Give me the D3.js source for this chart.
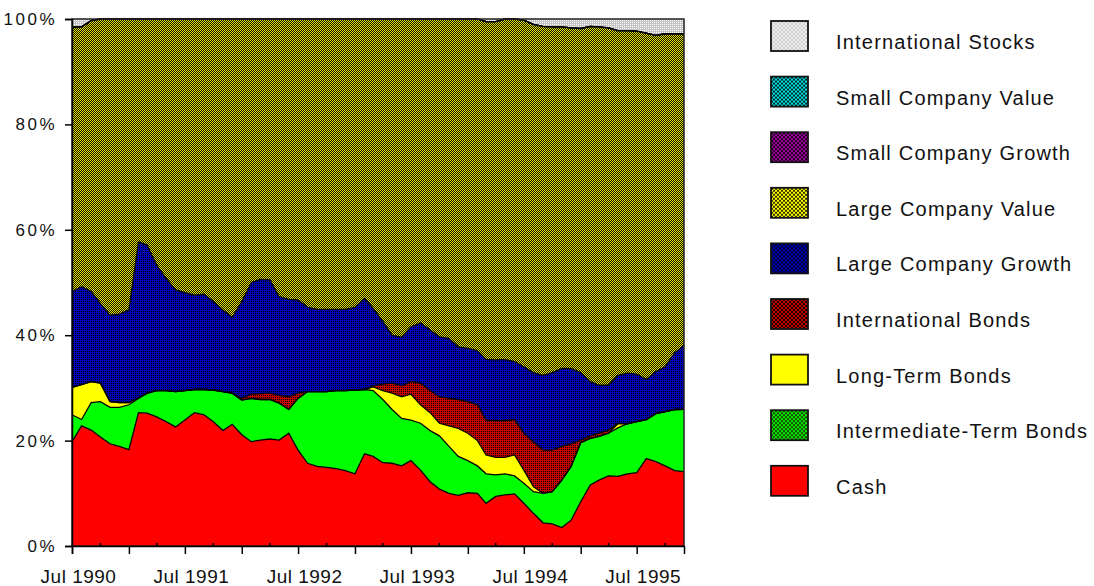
<!DOCTYPE html>
<html>
<head>
<meta charset="utf-8">
<script src="https://cdn.jsdelivr.net/npm/d3@7"></script>
<style>
  body { margin: 0; background: #fff; }
  svg text { font-family: Arial, "Liberation Sans", sans-serif; fill: #111; }
</style>
</head>
<body>
<svg id="chart" width="1094" height="586"></svg>
<script>
// meses: de Jul 1990 a Dic 1995 (66 puntos mensuales)
let startMonth = new Date(1990, 6, 1);
let endMonth = new Date(1996, 0, 1);
let months = d3.timeMonth.range(startMonth, endMonth);

// series (porcentaje del portafolio, de abajo hacia arriba)
let cash = [19.8,22.8,22.0,20.7,19.4,18.9,18.3,25.3,25.2,24.5,
  23.6,22.6,23.9,25.3,24.9,23.6,21.9,23.1,21.1,19.8,
  20.1,20.3,20.1,21.4,18.2,15.7,15.1,14.9,14.7,14.3,
  13.7,17.5,17.0,15.8,15.7,15.2,16.2,14.4,12.2,10.8,
  10.0,9.6,10.1,10.0,8.1,9.4,9.7,9.9,8.1,6.2,
  4.4,4.2,3.5,4.9,8.4,11.6,12.5,13.3,13.2,13.7,
  13.9,16.6,16.0,15.2,14.3,14.1];
let intermediateBonds = [5.1,1.2,5.2,6.7,6.9,7.4,8.5,2.7,3.8,5.0,
  5.9,6.7,5.6,4.4,4.8,6.0,7.4,5.9,6.6,8.2,
  7.7,7.5,7.0,4.5,9.8,13.6,14.2,14.4,14.8,15.2,
  15.9,12.2,12.5,12.0,10.2,9.0,7.7,8.9,9.7,10.1,
  8.9,7.4,6.1,5.2,5.6,4.1,4.0,3.4,3.8,4.1,
  5.6,6.1,9.0,10.2,11.2,8.8,8.3,8.1,9.2,9.5,
  9.7,7.4,9.1,10.3,11.6,11.8];
let longBonds = [5.2,6.6,4.0,3.5,1.1,0.9,0.4,0.1,0,0,
  0,0,0,0,0,0,0,0,0,0,
  0,0,0,0,0,0,0,0,0,0,
  0,0,0.7,1.7,3.1,4.1,4.9,3.5,3.4,2.4,
  3.9,5.3,5.2,4.8,3.6,3.3,3.1,4.0,2.5,1.0,
  0,0,0,0,0,0,0,0,0.8,0,
  0,0,0,0,0,0];
let intlBonds = [0,0,0,0,0,0,0,0,0,0,
  0,0,0,0,0,0,0,0,0.3,0.8,
  1.1,1.2,1.5,2.4,1.0,0,0,0,0,0,
  0,0,0.2,1.2,1.9,2.1,2.4,4.1,4.2,5.0,
  5.2,5.5,6.0,6.8,6.6,7.0,7.0,6.7,7.0,8.5,
  8.2,7.9,6.4,4.3,0.5,0.5,0.6,0.6,0.1,0,
  0,0,0,0,0,0];
let largeGrowth = [18.2,18.6,17.1,15.1,16.4,16.8,17.6,29.6,28.1,23.8,
  21.3,19.3,18.6,17.9,18.1,16.8,15.5,14.4,18.4,21.2,
  21.7,21.5,18.7,18.5,17.7,16.0,15.6,15.6,15.4,15.4,
  15.7,17.3,14.7,11.9,9.1,9.2,10.4,11.4,11.5,11.4,
  11.4,10.0,10.1,10.3,11.5,11.5,11.6,11.0,12.6,13.1,
  14.2,14.7,14.8,14.3,12.8,10.3,9.1,8.5,9.1,9.6,
  9.0,7.6,8.0,8.5,10.8,12.1];
let largeValue = [50.2,49.3,51.4,54.0,56.2,56.0,55.2,42.3,42.9,46.7,
  49.2,51.4,51.9,52.4,52.2,53.6,55.2,56.6,53.6,50.0,
  49.4,49.5,52.7,53.2,53.3,54.7,55.1,55.1,55.1,55.1,
  54.7,53.0,54.9,57.4,60.0,60.4,58.4,57.7,59.0,60.3,
  60.6,62.2,62.5,62.9,64.1,64.2,64.6,65.0,65.8,66.1,
  66.2,65.6,64.8,64.6,65.3,67.4,68.0,67.8,65.4,65.0,
  65.1,65.7,63.8,63.2,60.5,59.1];
let smallGrowth = [0,0,0,0,0,0,0,0,0,0,
  0,0,0,0,0,0,0,0,0,0,
  0,0,0,0,0,0,0,0,0,0,
  0,0,0,0,0,0,0,0,0,0,
  0,0,0,0,0,0,0,0,0,0,
  0,0,0,0,0,0,0,0,0,0,
  0,0,0,0,0,0];
let smallValue = [0,0,0,0,0,0,0,0,0,0,
  0,0,0,0,0,0,0,0,0,0,
  0,0,0,0,0,0,0,0,0,0,
  0,0,0,0,0,0,0,0,0,0,
  0,0,0,0,0,0,0,0,0,0,
  0,0,0,0,0,0,0,0,0,0,
  0,0,0,0,0,0];
let intlStocks = [1.5,1.5,0.3,0,0,0,0,0,0,0,
  0,0,0,0,0,0,0,0,0,0,
  0,0,0,0,0,0,0,0,0,0,
  0,0,0,0,0,0,0,0,0,0,
  0,0,0,0,0.5,0.5,0,0,0.2,1.0,
  1.4,1.5,1.5,1.7,1.8,1.4,1.5,1.7,2.2,2.2,
  2.3,2.7,3.1,2.8,2.8,2.8];

// etiquetas del eje y
let yTicks = [0, 0.2, 0.4, 0.6, 0.8, 1];

// orden de apilado (abajo -> arriba)
let keys = ["cash", "intermediate", "long", "intlBonds", "largeGrowth",
  "largeValue", "smallGrowth", "smallValue", "intlStocks"];
let labels = {
  cash: "Cash",
  intermediate: "Intermediate-Term Bonds",
  long: "Long-Term Bonds",
  intlBonds: "International Bonds",
  largeGrowth: "Large Company Growth",
  largeValue: "Large Company Value",
  smallGrowth: "Small Company Growth",
  smallValue: "Small Company Value",
  intlStocks: "International Stocks"
};

let tabla = months.map((m, i) => ({
  date: m,
  cash: cash[i],
  intermediate: intermediateBonds[i],
  long: longBonds[i],
  intlBonds: intlBonds[i],
  largeGrowth: largeGrowth[i],
  largeValue: largeValue[i],
  smallGrowth: smallGrowth[i],
  smallValue: smallValue[i],
  intlStocks: intlStocks[i]
}));

let svg = d3.select("#chart");
let plotLeft = 72, plotRight = 684, plotTop = 19, plotBottom = 546;

/* ---------- patrones de relleno (tramas tipo dither) ---------- */
let defs = svg.append("defs");
function tramaPixel(id, fondo, puntos, color, size) {
  let p = defs.append("pattern").attr("id", id)
    .attr("patternUnits", "userSpaceOnUse")
    .attr("width", size).attr("height", size);
  p.append("rect").attr("width", size).attr("height", size).attr("fill", fondo);
  puntos.forEach(([px, py]) => {
    p.append("rect").attr("x", px).attr("y", py).attr("width", 1).attr("height", 1).attr("fill", color);
  });
}
function tramaRed(id, fondo, color) {
  let p = defs.append("pattern").attr("id", id)
    .attr("patternUnits", "userSpaceOnUse")
    .attr("width", 4).attr("height", 4);
  p.append("rect").attr("width", 4).attr("height", 4).attr("fill", fondo);
  p.append("path").attr("d", "M0,0L4,4M4,0L0,4")
    .attr("stroke", color).attr("stroke-width", 0.8);
}
// grafico
tramaPixel("pValue", "#000", [[0, 0], [1, 1]], "#f0f000", 2);
tramaPixel("pGrowth", "#0000b8", [[1, 1]], "#000", 2);
tramaPixel("pIntlBonds", "#c80000", [[1, 1]], "#000", 2);
tramaPixel("pIntlStocks", "#c4c4c4", [[0, 0]], "#ffffff", 2);
tramaPixel("pSmallGrowth", "#000", [[0, 0], [1, 1]], "#c000c0", 2);
tramaPixel("pSmallValue", "#000", [[0, 0], [1, 1]], "#00d0d0", 2);
// leyenda
tramaRed("lValue", "#ffff00", "#000");
tramaRed("lGrowth", "#0000c0", "#000");
tramaRed("lIntlBonds", "#c00000", "#000");
tramaRed("lSmallGrowth", "#a000a0", "#000");
tramaRed("lSmallValue", "#00e0e0", "#000");
tramaRed("lIntlStocks", "#d0d0d0", "#f4f4f4");
tramaRed("lIntermediate", "#00ee00", "#202000");

let relleno = {
  cash: "#ff0000",
  intermediate: "#00ff00",
  long: "#ffff00",
  intlBonds: "url(#pIntlBonds)",
  largeGrowth: "url(#pGrowth)",
  largeValue: "url(#pValue)",
  smallGrowth: "url(#pSmallGrowth)",
  smallValue: "url(#pSmallValue)",
  intlStocks: "url(#pIntlStocks)"
};
let rellenoLeyenda = {
  cash: "#ff0000",
  intermediate: "url(#lIntermediate)",
  long: "#ffff00",
  intlBonds: "url(#lIntlBonds)",
  largeGrowth: "url(#lGrowth)",
  largeValue: "url(#lValue)",
  smallGrowth: "url(#lSmallGrowth)",
  smallValue: "url(#lSmallValue)",
  intlStocks: "url(#lIntlStocks)"
};

/* ---------- escalas ---------- */
let xScale = d3.scaleTime()
  .domain([startMonth, months[months.length - 1]])
  .range([plotLeft, plotRight]);
let yScale = d3.scaleLinear().domain([0, 1]).range([plotBottom, plotTop]);

let series = d3.stack().keys(keys).offset(d3.stackOffsetExpand)(tabla);

let area = d3.area()
  .x(d => xScale(d.data.date))
  .y0(d => yScale(d[0]))
  .y1(d => yScale(d[1]));
let linea = d3.line()
  .x(d => xScale(d.data.date))
  .y(d => yScale(d[1]));

let body = svg.append("g");
body.selectAll(".capa")
  .data(series)
  .enter()
  .append("path")
  .attr("class", "capa")
  .attr("d", area)
  .attr("fill", d => relleno[d.key]);

// bordes negros entre capas
body.selectAll(".borde")
  .data(series.slice(0, series.length - 1))
  .enter()
  .append("path")
  .attr("class", "borde")
  .attr("d", linea)
  .attr("fill", "none")
  .attr("stroke", "#000")
  .attr("stroke-width", 1.3);

// marco del area
svg.append("rect")
  .attr("x", plotLeft).attr("y", plotTop)
  .attr("width", plotRight - plotLeft).attr("height", plotBottom - plotTop)
  .attr("fill", "none").attr("stroke", "#222").attr("stroke-width", 1.5);

/* ---------- ejes ---------- */
let axisY = d3.axisLeft(yScale)
  .tickValues(yTicks)
  .tickFormat(d3.format(".0%"))
  .tickSize(7)
  .tickPadding(8);
let gy = svg.append("g").attr("transform", `translate(${plotLeft},0)`).call(axisY);
gy.select(".domain").attr("stroke", "#000").attr("stroke-width", 1.5);
gy.selectAll("line").attr("stroke", "#000").attr("stroke-width", 1.5);
gy.selectAll("text").style("font-size", "17px").style("letter-spacing", "2.5px").style("fill", "#111");

let majorTicks = months.filter(m => m.getMonth() === 0 || m.getMonth() === 6);
let minorTicks = months.filter(m => m.getMonth() === 3 || m.getMonth() === 9);

let axisX = d3.axisBottom(xScale)
  .tickValues(majorTicks)
  .tickSize(8)
  .tickFormat(d => d.getMonth() === 6 ? "Jul " + d.getFullYear() : "");
let gx = svg.append("g").attr("transform", `translate(0,${plotBottom})`).call(axisX);
gx.select(".domain").attr("stroke", "#000").attr("stroke-width", 1.5);
gx.selectAll("line").attr("stroke", "#000").attr("stroke-width", 1.5);
gx.selectAll("text")
  .attr("y", 37).attr("dy", 0).attr("dx", 6)
  .style("font-size", "19px").style("letter-spacing", "0.5px").style("fill", "#111");

svg.append("g").selectAll("line")
  .data(minorTicks)
  .enter()
  .append("line")
  .attr("x1", d => xScale(d)).attr("x2", d => xScale(d))
  .attr("y1", plotBottom).attr("y2", plotBottom - 3)
  .attr("stroke", "#000").attr("stroke-width", 1.5);

/* ---------- leyenda ---------- */
let legendKeys = keys.slice().reverse();
let legend = svg.append("g")
  .selectAll("g")
  .data(legendKeys)
  .enter()
  .append("g")
  .attr("transform", (d, i) => `translate(0,${42 + i * 55.6})`);

legend.append("rect")
  .attr("x", 771).attr("y", -21)
  .attr("width", 37).attr("height", 30)
  .attr("fill", d => rellenoLeyenda[d])
  .attr("stroke", "#111").attr("stroke-width", 1.8);

legend.append("text")
  .attr("x", 836).attr("y", 7)
  .style("font-size", "20px")
  .style("letter-spacing", "1.2px")
  .text(d => labels[d]);
</script>
</body>
</html>
